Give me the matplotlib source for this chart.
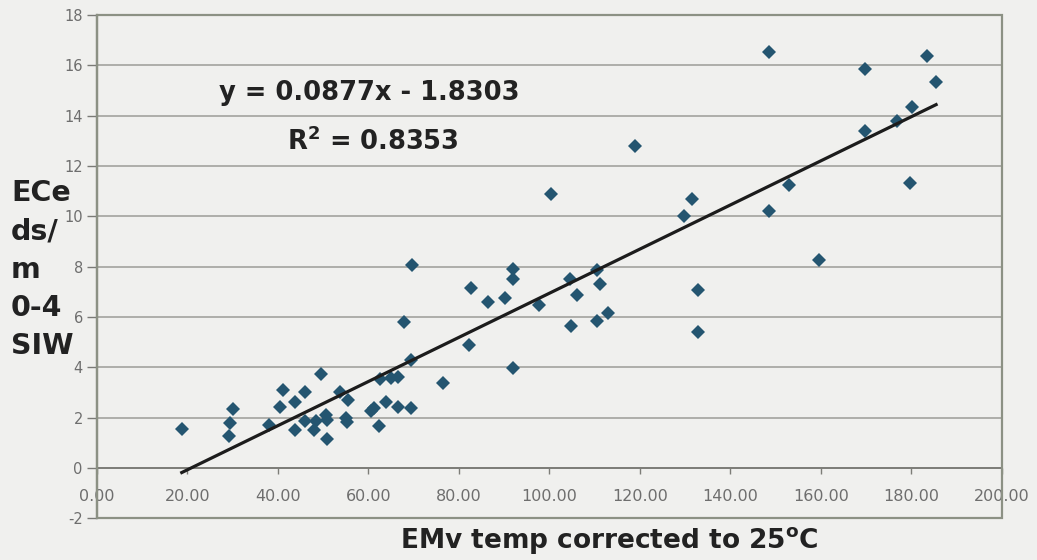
import matplotlib
matplotlib.use("Agg")
import matplotlib.pyplot as plt
import numpy as np
from matplotlib.patches import Rectangle

# EMv temp corrected (x) vs ECe ds/m 0-4 SIW (y)
emv = [18.8, 30.1, 29.5, 29.2, 38.1, 41.1, 40.6, 43.8, 43.8, 46.0,
       46.0, 48.1, 48.5, 49.6, 50.7, 51.0, 51.0, 53.8, 55.5, 55.1,
       55.3, 60.6, 61.2, 62.3, 62.5, 63.9, 65.0, 66.5, 66.5, 68.0,
       69.5, 69.5, 69.7, 76.6, 82.3, 82.7, 86.4, 90.3, 92.1, 91.9,
       91.9, 97.7, 100.4, 131.5, 129.9, 104.7, 106.1, 110.6, 111.2, 104.8,
       110.5, 112.9, 132.9, 132.9, 119.0, 148.6, 169.9, 183.5, 185.5, 180.1,
       176.8, 169.9, 153.1, 148.6, 179.8, 159.6]
ece = [1.55, 2.35, 1.79, 1.26, 1.72, 3.11, 2.41, 2.61, 1.49, 3.02,
       1.88, 1.52, 1.88, 3.75, 2.12, 1.89, 1.16, 3.02, 2.71, 1.99,
       1.81, 2.25, 2.38, 1.65, 3.55, 2.62, 3.58, 3.60, 2.42, 5.80,
       4.30, 2.38, 8.05, 3.38, 4.90, 7.15, 6.60, 6.76, 3.97, 7.91,
       7.51, 6.49, 10.89, 10.69, 10.00, 7.51, 6.86, 7.85, 7.33, 5.63,
       5.85, 6.16, 7.09, 5.39, 12.80, 16.53, 15.87, 16.39, 15.33, 14.33,
       13.78, 13.38, 11.26, 10.23, 11.33, 8.25]

slope = 0.0877
intercept = -1.8303
r2 = 0.8353

x_ticks = np.arange(0, 201, 20)
y_ticks = np.arange(-2, 19, 2)

bg = "#f0f0ee"
grid_c = "#a3a39e"
frame_c = "#8c9184"
dot_c = "#245570"
tick_c = "#6e6e6e"

fig = plt.figure(figsize=(10.37, 5.6), dpi=100, facecolor=bg)
ax = fig.add_axes([96.7 / 1037, 1 - 518.3 / 560, 905 / 1037, 503.3 / 560])
ax.set_facecolor(bg)

ax.set_xlim(0, 200)
ax.set_ylim(-2, 18)

for yv in y_ticks:
    ax.axhline(yv, color=grid_c, lw=1.2, zorder=1)

ax.plot(emv, ece, linestyle="none", marker="D", ms=7.3, color=dot_c,
        markeredgewidth=0, zorder=3)

xl = np.array([min(emv), max(emv)])
ax.plot(xl, slope * xl + intercept, color="#1c1c1c", lw=2.3, zorder=4)

# frame around plot area
ax.add_patch(Rectangle((0, 0), 1, 1, transform=ax.transAxes, fill=False,
                       ec=frame_c, lw=1.6, clip_on=False, zorder=5))

for s in ["top", "right"]:
    ax.spines[s].set_visible(False)
ax.spines["left"].set_color("#7a7a76")
ax.spines["left"].set_linewidth(1.6)
ax.spines["bottom"].set_position(("data", 0))
ax.spines["bottom"].set_color("#7d7d78")
ax.spines["bottom"].set_linewidth(1.4)

ax.set_xticks(x_ticks)
ax.set_xticklabels([f"{v:.2f}" for v in x_ticks])
ax.set_yticks(y_ticks)
ax.set_yticklabels([str(v) for v in y_ticks])
ax.tick_params(axis="x", direction="out", length=4, width=1, color="#7d7d78",
               labelsize=11.5, labelcolor=tick_c, pad=11)
ax.tick_params(axis="y", direction="out", length=7, width=1, color="#7a7a76",
               labelsize=10.5, labelcolor=tick_c, pad=3)

ax.text(60.2, 14.64, f"y = {slope}x - {abs(intercept)}", ha="center",
        va="baseline", fontsize=18.5, fontweight="bold", color="#222222")
ax.text(61.1, 12.65, r"R$^\mathbf{2}$ = " + f"{r2}", ha="center",
        va="baseline", fontsize=18.5, fontweight="bold", color="#222222")

fig.text(609 / 1037, 1 - 548 / 560, r"EMv temp corrected to 25$^\mathbf{o}$C",
         ha="center", va="baseline", fontsize=19, fontweight="bold",
         color="#222222")

fig.text(11 / 1037, 1 - 179 / 560, "ECe\nds/\nm\n0-4\nSIW", ha="left",
         va="top", fontsize=20.5, fontweight="bold", color="#222222",
         linespacing=1.47)

fig.savefig("out.png", dpi=100, facecolor=bg)
